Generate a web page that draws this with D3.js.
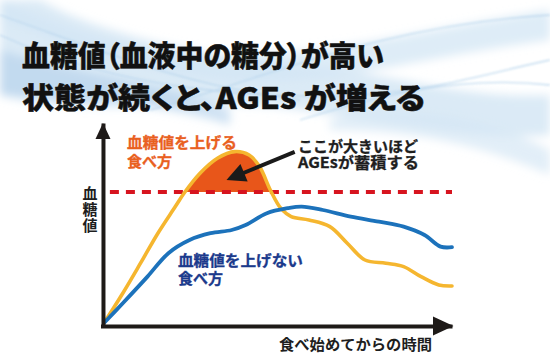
<!DOCTYPE html>
<html><head><meta charset="utf-8">
<script src="https://cdn.jsdelivr.net/npm/d3@7"></script>
<style>
html,body{margin:0;padding:0;background:#fff;}
svg{display:block;}
text{font-family:'Noto Sans CJK JP','Noto Sans',sans-serif;}
text.title{font-feature-settings:'palt';}
</style>
</head><body>
<svg id="c" width="550" height="357"></svg>
<script>
// ---- data ----
const titleLines = ["血糖値（血液中の糖分）が高い", "状態が続くと、AGEs が増える"];
const highTime  = [0,5.4,10.5,15.5,20.5,23,27.6,32.6,37.6,41.7,44.7,47.8,50.8,53.8,58.9,64.9,69.9,75,81,86.1,91.1,96.2,100];
const highValue = [0,14.9,29.9,44.9,58.2,64.9,74.9,82.4,85.7,84,78.2,66.5,57.4,53.2,51.5,48.2,39.9,31.5,29.9,28.2,23.2,19,18.5];
const lowTime   = [0,5.4,12.5,18.5,24.6,30.6,36.7,40.7,46.8,52.8,56.8,62.9,70.9,79,86.1,92.1,96.7,100];
const lowValue  = [0,9.9,23.2,34.9,41.5,44.9,46.5,49,54.9,57.4,58.2,56.5,53.2,50.7,48.2,44,38.2,37.9];
const threshold = 65.5;
const highLabel = ["血糖値を上げる", "食べ方"];
const lowLabel  = ["血糖値を上げない", "食べ方"];
const noteLabel = ["ここが大きいほど", "AGEsが蓄積する"];
const yLabel = "血糖値";
const xLabel = "食べ始めてからの時間";

// ---- setup ----
const svg = d3.select("#c");
const defs = svg.append("defs");
defs.append("filter").attr("id","blur").attr("x","-20%").attr("y","-50%").attr("width","140%").attr("height","200%")
  .append("feGaussianBlur").attr("stdDeviation",5);
defs.append("filter").attr("id","blur2").append("feGaussianBlur").attr("stdDeviation",1.2);

// background waves (decorative)
const bg = svg.append("g").attr("filter","url(#blur)");
bg.append("path").attr("d","M0,0 L0,95 C90,120 200,95 300,110 C400,125 470,140 550,135 L550,95 C460,100 380,70 300,65 C190,55 90,30 40,0 Z")
  .attr("fill","#cfe3f3").attr("opacity",0.75);
bg.append("path").attr("d","M0,20 C60,40 120,70 220,80 C320,90 400,60 550,40 L550,10 C420,30 330,55 220,55 C130,55 60,25 0,0 Z")
  .attr("fill","#d3e5f4").attr("opacity",0.75);
bg.append("path").attr("d","M330,120 C400,105 470,110 550,150 L550,175 C470,140 400,130 330,130 Z")
  .attr("fill","#d6e7f5").attr("opacity",0.7);
bg.append("path").attr("d","M0,50 C80,75 150,80 230,110 L230,125 C150,100 70,100 0,95 Z")
  .attr("fill","#b5d2ec").attr("opacity",0.65);
const st = svg.append("g").attr("filter","url(#blur2)").attr("fill","none").attr("stroke","#b6d4ec").attr("stroke-width",1.3).attr("opacity",0.8);
st.append("path").attr("d","M0,35 C120,90 260,100 360,95 C440,90 500,70 550,60");
st.append("path").attr("d","M150,110 C260,80 380,25 550,15");
st.append("path").attr("d","M300,120 C380,95 460,75 550,85");
st.append("path").attr("d","M0,15 C100,50 180,85 300,100");

// scales
const x = d3.scaleLinear().domain([-1,100]).range([100.5,452]);
const y = d3.scaleLinear().domain([-1.5,100]).range([326,123]);

const high = highTime.map((t,i)=>({t, v:highValue[i]}));
const low  = lowTime.map((t,i)=>({t, v:lowValue[i]}));
const curve = d3.curveCatmullRom.alpha(0.5);

// excess area above threshold
defs.append("clipPath").attr("id","above").append("rect")
  .attr("x",0).attr("y",0).attr("width",550).attr("height",y(threshold));
svg.append("path").datum(high)
  .attr("clip-path","url(#above)")
  .attr("fill","#e8561a")
  .attr("d", d3.area().x(d=>x(d.t)).y0(y(0)).y1(d=>y(d.v)).curve(curve));

// threshold line
svg.append("line")
  .attr("x1",x(1.7)).attr("x2",x(100)).attr("y1",y(threshold)).attr("y2",y(threshold))
  .attr("stroke","#d7141f").attr("stroke-width",4).attr("stroke-dasharray","9,7");

// curves
const line = d3.line().x(d=>x(d.t)).y(d=>y(d.v)).curve(curve);
svg.append("path").datum(high).attr("d",line).attr("fill","none")
  .attr("stroke","#f5b62f").attr("stroke-width",3.6).attr("stroke-linecap","round");
svg.append("path").datum(low).attr("d",line).attr("fill","none")
  .attr("stroke","#1c72bb").attr("stroke-width",3.8).attr("stroke-linecap","round");

// axes
const axisColor = "#1e1a18";
svg.append("g").attr("transform",`translate(0,${y(-1.5)})`)
  .call(d3.axisBottom(x).tickValues([]).tickSizeOuter(0));
svg.append("g").attr("transform",`translate(${x(0)-1},0)`)
  .call(d3.axisLeft(y).tickValues([]).tickSizeOuter(0));
svg.selectAll(".domain").attr("stroke",axisColor).attr("stroke-width",4);
// arrow heads
const xe = x(100), ye = y(-1.5);
svg.append("path").attr("d",`M${xe-19},${ye-9.5} L${xe+1.5},${ye} L${xe-19},${ye+9.5} Z`).attr("fill",axisColor);
const yx = x(0)-1, yt = y(100);
svg.append("path").attr("d",`M${yx-7.5},${yt+16} L${yx},${yt} L${yx+7.5},${yt+16} Z`).attr("fill",axisColor);

// annotation arrow
const tail = [x(54.8), y(85.6)], tip = [x(35.2), y(71.5)];
const dx = tip[0]-tail[0], dy = tip[1]-tail[1], L = Math.hypot(dx,dy);
const ux = dx/L, uy = dy/L, hl = 19, hw = 9.5;
const bx = tip[0]-ux*hl, by = tip[1]-uy*hl;
svg.append("line").attr("x1",tail[0]).attr("y1",tail[1]).attr("x2",bx+ux*2).attr("y2",by+uy*2)
  .attr("stroke","#1a1a1a").attr("stroke-width",4);
svg.append("path").attr("d",`M${tip[0]},${tip[1]} L${bx-uy*hw},${by+ux*hw} L${bx+uy*hw},${by-ux*hw} Z`).attr("fill","#1a1a1a");

// titles
[[titleLines[0],54,362],[titleLines[1],96,403]].forEach(([s,yy,w])=>{
  svg.append("text").attr("class","title").text(s).attr("x",22).attr("y",yy).attr("dominant-baseline","central")
    .attr("font-size",29).attr("font-weight",900).attr("fill","#111")
    .attr("stroke","#111").attr("stroke-width",0.45).attr("stroke-linejoin","round")
    .attr("textLength",w).attr("lengthAdjust","spacingAndGlyphs");
});

function label(lines, x0, ys, color, size, widths){
  const t = svg.append("text").attr("font-size",size).attr("font-weight",700).attr("fill",color)
    .attr("stroke",color).attr("stroke-width",0.3);
  lines.forEach((s,i)=>{
    const ts = t.append("tspan").text(s).attr("x",x0).attr("y",ys[i]).attr("dominant-baseline","central");
    if (widths && widths[i]) ts.attr("textLength",widths[i]).attr("lengthAdjust","spacingAndGlyphs");
  });
}
label(highLabel, 127, [141,160], "#e9601f", 15, [110,null]);
label(lowLabel, 178, [259,277], "#1b3a8c", 15, [125,null]);
label(noteLabel, 298, [145,161], "#1e1e1e", 15, [120,121]);

// y label (vertical)
svg.append("text").text(yLabel).attr("x",90).attr("y",185.5)
  .style("writing-mode","vertical-rl").style("letter-spacing","1px")
  .attr("font-size",15).attr("font-weight",700).attr("fill","#1e1e1e");
// x label
svg.append("text").text(xLabel).attr("x",279).attr("y",343.5)
  .attr("dominant-baseline","central").attr("font-size",15).attr("font-weight",700).attr("fill","#1e1e1e")
  .attr("textLength",153).attr("lengthAdjust","spacingAndGlyphs");
</script>
</body></html>
